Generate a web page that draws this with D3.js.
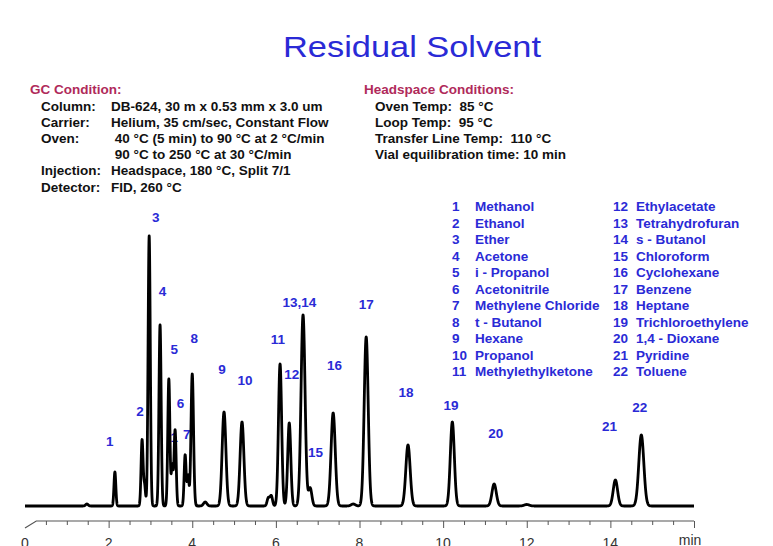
<!DOCTYPE html>
<html lang="en">
<head>
<meta charset="UTF-8">
<style>
  body { margin: 0; background: #fff; }
  svg { display: block; font-family: "Liberation Sans", Arial, sans-serif; }
</style>
</head>
<body>
<svg width="773" height="546"></svg>
<script src="https://d3js.org/d3.v7.min.js"></script>
<script>
// peaks: retention time (min), height (signal units), sigma (min)
const peakTimes   = [1.48, 2.15, 2.80, 2.86, 2.97, 3.23, 3.44, 3.52, 3.59, 3.83, 3.90, 4.00, 4.31, 4.76, 5.19, 5.82, 5.89, 6.10, 6.32, 6.65, 6.82, 7.37, 7.85, 8.16, 9.16, 10.22, 11.22, 12.0, 14.12, 14.74];
const peakHeights = [2,    34,   66,   20,   270,  181,  127,  40,   76,   51,   30,   132,  4,    94,   84,   8,    10,   142,  83,   191,  18,   93,   2,    169,  61,   84,    22,    1.5,  26,    71];
const peakWidths  = [0.03, 0.022,0.024,0.022,0.026,0.026,0.025,0.022,0.025,0.024,0.022,0.03, 0.04, 0.045,0.045,0.03, 0.03, 0.038,0.037,0.048,0.04, 0.05, 0.05, 0.048,0.052,0.048, 0.052, 0.06, 0.052, 0.06];

// peak numbers drawn on the chart: text, time, signal level
const peakLabels = ["1", "2", "3", "4", "5", "6", "1", "7", "8", "9", "10", "11", "12", "13,14", "15", "16", "17", "18", "19", "20", "21", "22"];
const labelTimes = [2.03, 2.75, 3.13, 3.29, 3.57, 3.72, 3.57, 3.87, 4.05, 4.71, 5.26, 6.05, 6.38, 6.56, 6.95, 7.40, 8.16, 9.11, 10.19, 11.26, 13.98, 14.70];
const labelLevels = [65, 95, 289, 215, 157, 103, 69, 72, 168, 137, 126, 167, 132, 204, 54, 141, 202, 114, 101, 73, 80, 99];

const xTicks = d3.range(0.5, 16.01, 0.5);
const xLabels = [0, 2, 4, 6, 8, 10, 12, 14];

const legendNums1 = ["1", "2", "3", "4", "5", "6", "7", "8", "9", "10", "11"];
const legendNames1 = ["Methanol", "Ethanol", "Ether", "Acetone", "i - Propanol", "Acetonitrile", "Methylene Chloride", "t - Butanol", "Hexane", "Propanol", "Methylethylketone"];
const legendNums2 = ["12", "13", "14", "15", "16", "17", "18", "19", "20", "21", "22"];
const legendNames2 = ["Ethylacetate", "Tetrahydrofuran", "s - Butanol", "Chloroform", "Cyclohexane", "Benzene", "Heptane", "Trichloroethylene", "1,4 - Dioxane", "Pyridine", "Toluene"];

const gcKeys = ["Column:", "Carrier:", "Oven:", "", "Injection:", "Detector:"];
const gcValues = ["DB-624, 30 m x 0.53 mm x 3.0 um", "Helium, 35 cm/sec, Constant Flow", " 40 \u00B0C (5 min) to 90 \u00B0C at 2 \u00B0C/min", " 90 \u00B0C to 250 \u00B0C at 30 \u00B0C/min", "Headspace, 180 \u00B0C, Split 7/1", "FID, 260 \u00B0C"];
const hsLines = ["Oven Temp:  85 \u00B0C", "Loop Temp:  95 \u00B0C", "Transfer Line Temp:  110 \u00B0C", "Vial equilibration time: 10 min"];

const svg = d3.select("svg");
const blue = "#2a2ad6";
const red = "#b02a5a";
const fs = "13.5px";

const x = d3.scaleLinear().domain([0, 16]).range([25, 694]);
const y = d3.scaleLinear().domain([0, 300]).range([506, 206]);

// title
svg.append("text")
  .attr("x", 283).attr("y", 57)
  .attr("textLength", 258).attr("lengthAdjust", "spacingAndGlyphs")
  .style("font-size", "29px").style("fill", blue)
  .text("Residual Solvent");

// GC condition block
svg.append("text").attr("x", 30).attr("y", 94)
  .style("font-size", fs).style("font-weight", "bold").style("fill", red)
  .text("GC Condition:");
const rowY = i => 111 + i * 16.1;
svg.selectAll(".gck").data(gcKeys).enter().append("text")
  .attr("x", 41).attr("y", (d, i) => rowY(i))
  .style("font-size", fs).style("font-weight", "bold").style("fill", "#111")
  .text(d => d);
svg.selectAll(".gcv").data(gcValues).enter().append("text")
  .attr("x", 111).attr("y", (d, i) => rowY(i))
  .style("font-size", fs).style("font-weight", "bold").style("fill", "#111")
  .style("white-space", "pre").attr("xml:space", "preserve")
  .text(d => d);

// headspace block
svg.append("text").attr("x", 364).attr("y", 94)
  .style("font-size", fs).style("font-weight", "bold").style("fill", red)
  .text("Headspace Conditions:");
svg.selectAll(".hs").data(hsLines).enter().append("text")
  .attr("x", 375).attr("y", (d, i) => rowY(i))
  .style("font-size", fs).style("font-weight", "bold").style("fill", "#111")
  .style("white-space", "pre").attr("xml:space", "preserve")
  .text(d => d);

// legend
function legendCol(nums, names, xNum, xName) {
  const g = svg.append("g").style("font-size", fs).style("font-weight", "bold").style("fill", blue);
  g.selectAll(".n").data(nums).enter().append("text")
    .attr("x", xNum).attr("y", (d, i) => 211 + i * 16.5).text(d => d);
  g.selectAll(".m").data(names).enter().append("text")
    .attr("x", xName).attr("y", (d, i) => 211 + i * 16.5).text(d => d);
}
legendCol(legendNums1, legendNames1, 452, 475);
legendCol(legendNums2, legendNames2, 613, 636);

// peak labels (drawn before the trace so the trace covers them)
svg.selectAll(".pl").data(peakLabels).enter().append("text")
  .attr("x", (d, i) => x(labelTimes[i]))
  .attr("y", (d, i) => y(labelLevels[i]))
  .attr("text-anchor", "middle").attr("dominant-baseline", "central")
  .style("font-size", fs).style("font-weight", "bold").style("fill", blue)
  .text(d => d);

// chromatogram trace as a sum of the peaks above
const times = d3.range(0, 16.0001, 0.002);
const signal = times.map(t => {
  let s = 0;
  for (let k = 0; k < peakTimes.length; k++) {
    const z = (t - peakTimes[k]) / peakWidths[k];
    s += peakHeights[k] * Math.exp(-0.5 * z * z);
  }
  return { t: t, v: s };
});
const line = d3.line().x(d => x(d.t)).y(d => y(d.v));
svg.append("path")
  .attr("d", line(signal))
  .attr("fill", "none").attr("stroke", "#000")
  .attr("stroke-width", 2.8).attr("stroke-linejoin", "round");

// time axis
const axisY = 521;
const axis = svg.append("g").attr("transform", `translate(0,${axisY})`)
  .call(d3.axisBottom(x).tickValues(xTicks).tickSize(4).tickFormat(""));
axis.select(".domain").remove();
axis.selectAll(".tick line")
  .attr("stroke", "#555").attr("stroke-width", 1)
  .attr("y2", d => (d % 2 === 0 ? 7 : 4));
svg.append("path")
  .attr("d", `M${x(0)},${axisY + 7}L${x(0.27)},${axisY}H${x(16)}`)
  .attr("fill", "none").attr("stroke", "#555").attr("stroke-width", 1.2);

svg.selectAll(".xl").data(xLabels).enter().append("text")
  .attr("x", d => x(d)).attr("y", 548)
  .attr("text-anchor", "middle")
  .style("font-size", "14px").style("fill", "#333")
  .text(d => d);
svg.append("text").attr("x", x(16) - 4).attr("y", 545)
  .attr("text-anchor", "middle")
  .style("font-size", "14px").style("fill", "#333")
  .text("min");
</script>
</body>
</html>
